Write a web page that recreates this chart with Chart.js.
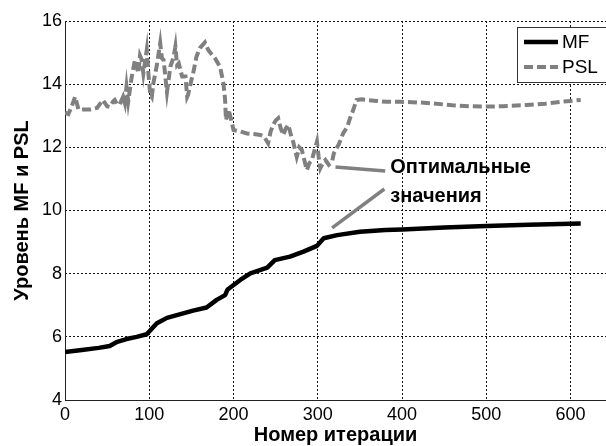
<!DOCTYPE html>
<html>
<head>
<meta charset="utf-8">
<script src="https://cdn.jsdelivr.net/npm/chart.js@4/dist/chart.umd.min.js"></script>
<style>
  html, body { margin: 0; padding: 0; background: #fff; }
  #wrap { width: 606px; height: 446px; position: relative; overflow: hidden; }
</style>
</head>
<body>
<div id="wrap"><canvas id="chart" width="606" height="446"></canvas></div>
<script>
// MF level per iteration
const mfIter  = [0, 20, 40, 53, 61, 73, 85, 97, 109, 121, 137, 152, 168, 180, 190, 193, 208, 220, 240, 249, 267, 283, 299, 307, 323, 350, 380, 400, 450, 500, 550, 612];
const mfLevel = [5.52, 5.58, 5.65, 5.71, 5.83, 5.93, 6.0, 6.08, 6.43, 6.6, 6.72, 6.83, 6.93, 7.17, 7.32, 7.5, 7.8, 8.01, 8.19, 8.43, 8.54, 8.7, 8.88, 9.12, 9.22, 9.33, 9.38, 9.4, 9.46, 9.51, 9.55, 9.59];

// PSL level per iteration
const pslIter  = [0, 4, 8, 12, 16, 22, 30, 38, 45, 50, 53, 57, 59, 62, 65, 69, 71, 73, 75, 79, 83, 87, 89, 91, 93, 97, 99, 101, 103, 105, 109, 113, 115, 117, 121, 125, 129, 131, 133, 135, 139, 143, 145, 146, 150, 152, 156, 160, 166, 170, 174, 178, 184, 188, 190, 191, 194, 196, 200, 208, 216, 224, 232, 236, 241, 244, 247, 250, 253, 256, 259, 262, 265, 268, 271, 275, 278, 281, 284, 287, 290, 293, 296, 299, 301, 303, 306, 309, 313, 317, 319, 325, 330, 335, 338, 342, 346, 352, 358, 370, 382, 398, 420, 437, 460, 480, 497, 520, 548, 570, 588, 600, 612];
const pslLevel = [13.1, 13.05, 13.3, 13.6, 13.2, 13.2, 13.2, 13.25, 13.5, 13.3, 13.28, 13.45, 13.5, 13.35, 13.36, 13.6, 13.4, 13.92, 13.45, 14.2, 14.77, 14.35, 14.9, 14.77, 14.34, 15.08, 14.34, 13.7, 13.6, 14.05, 14.6, 15.3, 14.82, 14.77, 13.75, 14.55, 14.87, 15.19, 14.6, 14.66, 14.24, 14.24, 13.6, 13.66, 14.13, 14.34, 14.87, 15.14, 15.32, 15.08, 14.95, 14.82, 14.55, 14.03, 13.5, 12.86, 13.2, 13.0, 12.55, 12.5, 12.44, 12.42, 12.39, 12.35, 12.13, 12.5, 12.71, 12.85, 12.92, 12.6, 12.39, 12.6, 12.71, 12.4, 12.15, 11.7, 12.0, 11.92, 11.6, 11.28, 11.5, 11.6, 11.9, 12.18, 11.7, 11.34, 11.5, 11.6, 11.45, 11.55, 11.81, 12.1, 12.44, 12.65, 12.9, 13.18, 13.5, 13.52, 13.5, 13.47, 13.44, 13.44, 13.42, 13.39, 13.33, 13.3, 13.29, 13.3, 13.34, 13.38, 13.44, 13.47, 13.5];

// Pointer lines for the "optimal values" note: [iteration, level] endpoints
const notePslIter = [321, 380];
const notePslLevel = [11.38, 11.25];
const noteMfIter = [317, 379];
const noteMfLevel = [9.45, 10.68];
const noteLines = ['Оптимальные', 'значения'];
const noteAnchor = { iter: 386, levels: [11.35, 10.43] };

const seriesNames = ['MF', 'PSL'];
const xTicks = [0, 100, 200, 300, 400, 500, 600];

const pts = (xs, ys) => xs.map((x, i) => ({ x: x, y: ys[i] }));

const GRAY = '#808080';
const FONT = '"Liberation Sans", Arial, sans-serif';

const overlay = {
  id: 'overlay',
  afterDatasetsDraw(chart) {
    const { ctx, scales: { x, y } } = chart;
    ctx.save();
    // note text
    ctx.fillStyle = '#000';
    ctx.font = 'bold 20px ' + FONT;
    ctx.textAlign = 'left';
    ctx.textBaseline = 'middle';
    noteLines.forEach((t, i) => {
      ctx.fillText(t, x.getPixelForValue(noteAnchor.iter), y.getPixelForValue(noteAnchor.levels[i]));
    });

    // legend box
    const lx = 517.5, ly = 27.5, lw = 100, lh = 55;
    ctx.fillStyle = '#fff';
    ctx.fillRect(lx, ly, lw, lh);
    ctx.strokeStyle = '#333';
    ctx.lineWidth = 1;
    ctx.strokeRect(lx, ly, lw, lh);
    const ds = chart.data.datasets;
    [0, 1].forEach(i => {
      const yy = 42 + i * 25;
      ctx.beginPath();
      ctx.strokeStyle = ds[i].borderColor;
      ctx.lineWidth = ds[i].borderWidth;
      ctx.setLineDash(ds[i].borderDash || []);
      ctx.moveTo(524, yy);
      ctx.lineTo(558, yy);
      ctx.stroke();
      ctx.setLineDash([]);
      ctx.fillStyle = '#000';
      ctx.font = '19px ' + FONT;
      ctx.textAlign = 'left';
      ctx.textBaseline = 'middle';
      ctx.fillText(seriesNames[i], 562, yy + 1);
    });
    ctx.restore();
  }
};

// dotted grid; the line on the axis itself is left to the solid border
const gridStyle = {
  color: ctx => (ctx.tick && ctx.index === 0 ? 'rgba(0,0,0,0)' : '#111'),
  lineWidth: 1,
  drawTicks: false
};

new Chart(document.getElementById('chart'), {
  type: 'line',
  data: {
    datasets: [
      { label: seriesNames[0], data: pts(mfIter, mfLevel), borderColor: '#000', borderWidth: 4.5, pointRadius: 0, tension: 0, borderJoinStyle: 'round' },
      { label: seriesNames[1], data: pts(pslIter, pslLevel), borderColor: GRAY, borderWidth: 4, borderDash: [9, 4], pointRadius: 0, tension: 0 },
      { label: 'note1', data: pts(notePslIter, notePslLevel), borderColor: GRAY, borderWidth: 3.5, pointRadius: 0 },
      { label: 'note2', data: pts(noteMfIter, noteMfLevel), borderColor: GRAY, borderWidth: 3.5, pointRadius: 0 }
    ]
  },
  options: {
    responsive: false,
    animation: false,
    devicePixelRatio: 1,
    layout: { padding: { top: 21, right: 0, left: 0, bottom: 0 } },
    plugins: { legend: { display: false }, tooltip: { enabled: false } },
    scales: {
      x: {
        type: 'linear',
        min: 0,
        max: 642,
        afterBuildTicks: s => { s.ticks = xTicks.map(v => ({ value: v })); },
        afterFit: s => { s.height = 46; },
        ticks: { color: '#000', padding: 4, font: { family: FONT, size: 18 }, maxRotation: 0 },
        grid: gridStyle,
        border: { display: true, color: '#222', width: 1, dash: [2, 2] },
        title: { display: true, text: 'Номер итерации', color: '#000', font: { family: FONT, size: 20, weight: 'bold', lineHeight: 1 }, padding: { top: 0, bottom: 1 } }
      },
      y: {
        min: 4,
        max: 16,
        ticks: { stepSize: 2, color: '#000', padding: 3, font: { family: FONT, size: 18 } },
        afterFit: s => { s.width = 65; },
        grid: gridStyle,
        border: { display: true, color: '#222', width: 1, dash: [2, 2], dashOffset: 1 },
        title: { display: true, text: 'Уровень MF и PSL', color: '#000', font: { family: FONT, size: 20, weight: 'bold', lineHeight: 1 }, padding: { top: 12, bottom: 0 } }
      }
    }
  },
  plugins: [overlay]
});
</script>
</body>
</html>
